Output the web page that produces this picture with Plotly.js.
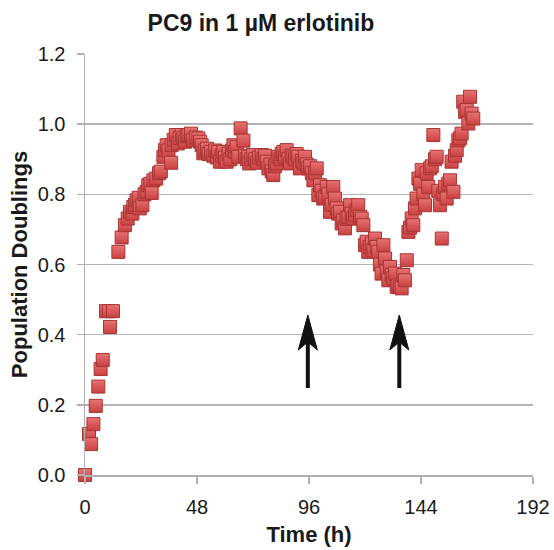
<!DOCTYPE html>
<html>
<head>
<meta charset="utf-8">
<script src="https://cdn.plot.ly/plotly-3.0.1.min.js"></script>
<style>html,body{margin:0;padding:0;background:#fff;}#chart{width:554px;height:550px;}</style>
</head>
<body>
<div id="chart"></div>
<script>
// Time (h)
var timeHours = [0,1.7,2.6,3.6,4.6,5.7,6.7,7.6,9.0,10.2,10.7,12.0,14.3,15.7,17.1,18.3,19.3,20.3,20.7,21.4,22.1,23.0,23.5,24.6,25.5,26.4,27.1,28.0,28.6,29.3,30.5,31.7,32.5,33.6,34.3,35.0,35.8,36.9,37.1,38.0,38.9,39.8,40.5,41.4,42.2,42.9,43.6,44.3,45.4,46.4,47.5,48.6,49.3,50.0,50.7,51.5,52.3,53.0,54.0,55.0,55.8,56.5,57.1,57.9,58.6,59.3,60.0,60.7,61.5,62.3,63.0,63.6,64.3,65.0,65.7,66.7,67.9,68.6,69.3,70.0,70.4,71.2,72.1,73.0,73.8,74.6,75.7,76.5,77.2,77.9,78.6,79.5,80.0,80.7,81.4,82.1,82.9,83.8,84.3,85.0,85.7,86.4,87.2,87.9,88.6,89.3,90.0,90.7,91.4,92.1,92.9,93.6,94.3,95.0,95.7,96.5,97.2,97.9,98.6,99.3,100.0,100.7,101.4,102.1,102.9,103.6,104.3,105.0,105.7,106.4,107.1,107.8,108.5,109.3,110.0,110.7,111.4,112.1,112.9,113.6,114.3,115.0,115.7,116.4,117.1,117.9,118.6,119.3,120.0,120.7,121.4,122.1,122.9,123.6,124.3,125.0,125.7,126.4,127.1,127.9,128.6,129.3,130.0,130.7,131.4,132.1,132.9,133.6,134.3,135.0,135.7,136.4,137.1,137.9,138.6,139.3,140.0,140.7,141.4,142.1,142.9,143.6,144.3,145.0,145.7,146.4,147.1,147.9,148.6,149.3,150.0,150.7,151.4,152.1,152.9,153.6,154.3,155.0,155.7,156.4,157.1,157.9,158.6,159.3,160.0,160.7,161.4,162.1,162.9,163.6,164.3,165.0,165.7,166.4];
// Population doublings
var doublings = [0.0,0.117,0.088,0.145,0.197,0.252,0.302,0.328,0.467,0.467,0.422,0.467,0.636,0.677,0.712,0.731,0.750,0.745,0.764,0.770,0.783,0.790,0.760,0.769,0.800,0.807,0.826,0.830,0.804,0.840,0.845,0.860,0.865,0.907,0.926,0.940,0.925,0.890,0.940,0.955,0.969,0.945,0.960,0.969,0.960,0.950,0.965,0.969,0.973,0.954,0.962,0.959,0.950,0.940,0.917,0.925,0.930,0.915,0.921,0.910,0.925,0.905,0.921,0.893,0.910,0.921,0.905,0.893,0.915,0.900,0.925,0.940,0.921,0.935,0.907,0.988,0.953,0.910,0.900,0.907,0.888,0.900,0.912,0.900,0.890,0.905,0.912,0.900,0.910,0.893,0.874,0.885,0.865,0.855,0.880,0.888,0.907,0.900,0.915,0.921,0.905,0.926,0.900,0.888,0.910,0.905,0.900,0.915,0.907,0.874,0.895,0.890,0.907,0.885,0.874,0.880,0.860,0.840,0.860,0.874,0.798,0.826,0.810,0.788,0.793,0.821,0.800,0.750,0.770,0.821,0.788,0.760,0.745,0.750,0.717,0.725,0.703,0.730,0.736,0.769,0.745,0.731,0.740,0.755,0.769,0.736,0.731,0.712,0.655,0.665,0.636,0.650,0.660,0.640,0.674,0.650,0.636,0.600,0.574,0.655,0.617,0.580,0.555,0.593,0.570,0.560,0.574,0.536,0.540,0.536,0.532,0.570,0.555,0.612,0.693,0.705,0.731,0.712,0.760,0.788,0.845,0.830,0.869,0.800,0.769,0.860,0.821,0.874,0.880,0.969,0.900,0.907,0.810,0.769,0.674,0.800,0.821,0.788,0.830,0.840,0.893,0.807,0.910,0.926,0.954,0.960,0.973,1.064,1.035,1.040,1.002,1.078,1.030,1.016];
// Axis ticks
var xTickVals = [0,48,96,144,192];
var yTickVals = [0,0.2,0.4,0.6,0.8,1.0,1.2];
// Arrows (time, tip value, tail value)
var arrowTimes = [95.5, 134.7];
var arrowTip = 0.456;
var arrowTail = 0.248;

var font = "'Liberation Sans', Arial, Helvetica, sans-serif";

// arrow geometry in pixels converted to data units
var plotW = 448, plotH = 421, xSpan = 192, ySpan = 1.2;
var pxX = xSpan / plotW, pxY = ySpan / plotH;
var shapes = [];
arrowTimes.forEach(function(t){
  var barbY = arrowTip - 35 * pxY;
  var notchY = arrowTip - 27 * pxY;
  var hw = 9.5 * pxX;
  shapes.push({type:'line', xref:'x', yref:'y', x0:t, x1:t, y0:arrowTail, y1:notchY + 2*pxY,
    line:{color:'#111111', width:4}, layer:'above'});
  shapes.push({type:'path', xref:'x', yref:'y',
    path:'M'+t+','+arrowTip+' L'+(t-hw)+','+barbY+' L'+t+','+notchY+' L'+(t+hw)+','+barbY+' Z',
    fillcolor:'#111111', line:{color:'#111111', width:1}, layer:'above'});
});

var trace = {
  x: timeHours, y: doublings, type:'scatter', mode:'markers', cliponaxis:false,
  marker:{symbol:'square', size:13, color:'#e87373',
    gradient:{type:'vertical', color:'#c94040'},
    line:{color:'#a83434', width:1}}
};

var layout = {
  width:554, height:550,
  margin:{l:85, r:21, t:54, b:75},
  paper_bgcolor:'#ffffff', plot_bgcolor:'#ffffff',
  showlegend:false,
  font:{family:font, color:'#1a1a1a'},
  title:{text:'<b>PC9 in 1 µM erlotinib</b>', font:{family:font, size:23, color:'#1a1a1a'},
    x:0.471, xanchor:'center', xref:'container', y:0.958, yanchor:'middle', yref:'container'},
  xaxis:{range:[0,192], tickvals:xTickVals, ticktext:xTickVals.map(String),
    showgrid:false, zeroline:false, showline:true, linecolor:'#b0b0b0', linewidth:1.5,
    ticks:'outside', ticklen:7, tickcolor:'#b0b0b0', tickwidth:1.5,
    tickfont:{family:font, size:20, color:'#1a1a1a'}, ticklabelstandoff:6,
    title:{text:'<b>Time (h)</b>', font:{family:font, size:22, color:'#1a1a1a'}, standoff:10}},
  yaxis:{range:[0,1.2], tickvals:yTickVals, ticktext:yTickVals.map(function(v){return v.toFixed(1);}),
    showgrid:true, gridcolor:'#b4b4b4', gridwidth:1.5, zeroline:false,
    showline:true, linecolor:'#b0b0b0', linewidth:1.5,
    ticks:'outside', ticklen:7, tickcolor:'#b0b0b0', tickwidth:1.5,
    tickfont:{family:font, size:20, color:'#1a1a1a'}, ticklabelstandoff:7,
    title:{text:'<b>Population Doublings</b>', font:{family:font, size:22, color:'#1a1a1a'}, standoff:4}},
  shapes: shapes
};

Plotly.newPlot('chart', [trace], layout, {displayModeBar:false, staticPlot:true});
</script>
</body>
</html>
